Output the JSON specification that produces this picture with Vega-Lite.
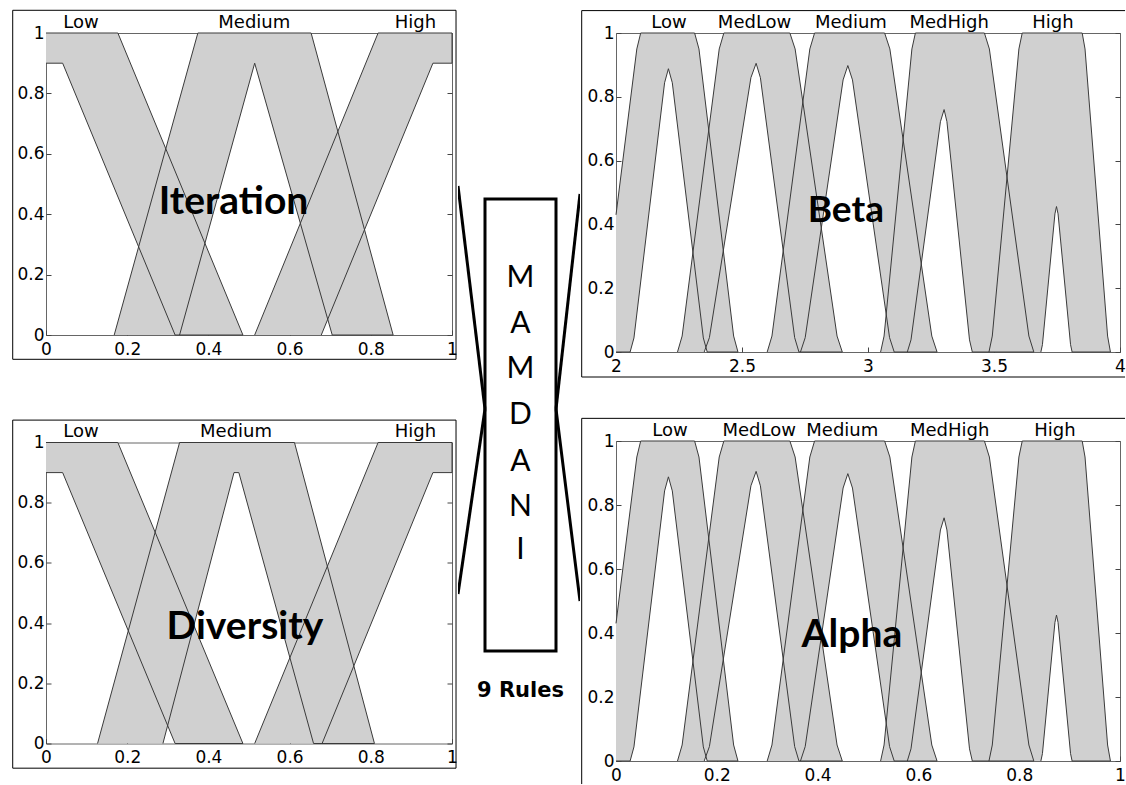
{
  "$schema": "https://vega.github.io/schema/vega-lite/v6.json",
  "padding": {"left": 11, "top": 9, "right": 0, "bottom": 0},
  "background": "white",
  "config": {"view": {"stroke": "#666", "strokeWidth": 1}, "font": "DejaVu Sans"},
  "spacing": 0,
  "hconcat": [
    {
      "spacing": 57.5,
      "vconcat": [
        {
          "width": 406, "height": 302,
          "resolve": {"axis": {"x": "independent", "y": "independent"}},
          "layer": [
            {
              "data": {"name": "iter", "values": [
                {"m":"Low","i":0,"x":0,"y":1},{"m":"Low","i":1,"x":0.177,"y":1},{"m":"Low","i":2,"x":0.485,"y":0},{"m":"Low","i":3,"x":0.318,"y":0},{"m":"Low","i":4,"x":0.041,"y":0.9},{"m":"Low","i":5,"x":0,"y":0.9},
                {"m":"Medium","i":0,"x":0.168,"y":0},{"m":"Medium","i":1,"x":0.374,"y":1},{"m":"Medium","i":2,"x":0.653,"y":1},{"m":"Medium","i":3,"x":0.855,"y":0},{"m":"Medium","i":4,"x":0.705,"y":0},{"m":"Medium","i":5,"x":0.514,"y":0.9},{"m":"Medium","i":6,"x":0.329,"y":0},
                {"m":"High","i":0,"x":0.514,"y":0},{"m":"High","i":1,"x":0.818,"y":1},{"m":"High","i":2,"x":1,"y":1},{"m":"High","i":3,"x":1,"y":0.9},{"m":"High","i":4,"x":0.953,"y":0.9},{"m":"High","i":5,"x":0.678,"y":0}
              ]},
              "mark": {"type": "line", "filled": true, "fill": "#d0d0d0", "strokeWidth": 0},
              "encoding": {
                "x": {"field": "x", "type": "quantitative", "scale": {"domain": [0, 1], "nice": false, "zero": false},
                  "axis": {"values": [0,0.2,0.4,0.6,0.8,1], "format": "~g", "title": null, "domain": false, "grid": false, "tickSize": -5, "tickColor": "#444", "labelFlush": false, "labelPadding": 11, "labelFont": "DejaVu Sans", "labelFontSize": 17, "labelColor": "#000"}},
                "y": {"field": "y", "type": "quantitative", "scale": {"domain": [0, 1], "nice": false},
                  "axis": {"values": [0,0.2,0.4,0.6,0.8,1], "format": "~g", "title": null, "domain": false, "grid": false, "tickSize": -5, "tickColor": "#444", "labelPadding": 7, "labelFont": "DejaVu Sans", "labelFontSize": 17, "labelColor": "#000"}},
                "detail": {"field": "m"},
                "order": {"field": "i", "type": "quantitative"}
              }
            },
            {
              "data": {"name": "iter"},
              "mark": {"type": "line", "stroke": "#3a3a3a", "strokeWidth": 1},
              "encoding": {
                "x": {"field": "x", "type": "quantitative", "axis": null},
                "y": {"field": "y", "type": "quantitative", "axis": {"orient": "right", "values": [0,0.2,0.4,0.6,0.8,1], "labels": false, "title": null, "domain": false, "grid": false, "tickSize": -5, "tickColor": "#444"}},
                "detail": {"field": "m"},
                "order": {"field": "i", "type": "quantitative"}
              }
            },
            {
              "data": {"values": [{"n":"Low","x":0.086},{"n":"Medium","x":0.513},{"n":"High","x":0.91}]},
              "mark": {"type": "text", "font": "DejaVu Sans", "fontSize": 18, "baseline": "alphabetic", "align": "center", "color": "#000"},
              "encoding": {"x": {"field": "x", "type": "quantitative", "axis": null}, "y": {"datum": 1.0175, "axis": null}, "text": {"field": "n"}}
            },
            {
              "data": {"values": [{"t": "Iteration"}]},
              "mark": {"type": "text", "font": "Lato", "fontSize": 39, "fontWeight": "bold", "baseline": "alphabetic", "align": "center", "color": "#000"},
              "encoding": {"x": {"datum": 0.462, "axis": null}, "y": {"datum": 0.40, "axis": null}, "text": {"field": "t"}}
            },
            {
              "data": {"values": [{}]},
              "mark": {"type": "rect", "filled": false, "stroke": "#000", "strokeWidth": 1},
              "encoding": {"x": {"datum": -0.082, "axis": null}, "x2": {"datum": 1.0099}, "y": {"datum": 1.0752, "axis": null}, "y2": {"datum": -0.0805}}
            }
          ]
        },
        {
          "width": 406, "height": 301,
          "resolve": {"axis": {"x": "independent", "y": "independent"}},
          "layer": [
            {
              "data": {"name": "div", "values": [
                {"m":"Low","i":0,"x":0,"y":1},{"m":"Low","i":1,"x":0.177,"y":1},{"m":"Low","i":2,"x":0.485,"y":0},{"m":"Low","i":3,"x":0.318,"y":0},{"m":"Low","i":4,"x":0.041,"y":0.9},{"m":"Low","i":5,"x":0,"y":0.9},
                {"m":"Medium","i":0,"x":0.127,"y":0},{"m":"Medium","i":1,"x":0.329,"y":1},{"m":"Medium","i":2,"x":0.612,"y":1},{"m":"Medium","i":3,"x":0.809,"y":0},{"m":"Medium","i":4,"x":0.659,"y":0},{"m":"Medium","i":5,"x":0.475,"y":0.9},{"m":"Medium","i":6,"x":0.463,"y":0.9},{"m":"Medium","i":7,"x":0.288,"y":0},
                {"m":"High","i":0,"x":0.514,"y":0},{"m":"High","i":1,"x":0.818,"y":1},{"m":"High","i":2,"x":1,"y":1},{"m":"High","i":3,"x":1,"y":0.9},{"m":"High","i":4,"x":0.953,"y":0.9},{"m":"High","i":5,"x":0.68,"y":0}
              ]},
              "mark": {"type": "line", "filled": true, "fill": "#d0d0d0", "strokeWidth": 0},
              "encoding": {
                "x": {"field": "x", "type": "quantitative", "scale": {"domain": [0, 1], "nice": false, "zero": false},
                  "axis": {"values": [0,0.2,0.4,0.6,0.8,1], "format": "~g", "title": null, "domain": false, "grid": false, "tickSize": -5, "tickColor": "#444", "labelFlush": false, "labelPadding": 11, "labelFont": "DejaVu Sans", "labelFontSize": 17, "labelColor": "#000"}},
                "y": {"field": "y", "type": "quantitative", "scale": {"domain": [0, 1], "nice": false},
                  "axis": {"values": [0,0.2,0.4,0.6,0.8,1], "format": "~g", "title": null, "domain": false, "grid": false, "tickSize": -5, "tickColor": "#444", "labelPadding": 7, "labelFont": "DejaVu Sans", "labelFontSize": 17, "labelColor": "#000"}},
                "detail": {"field": "m"},
                "order": {"field": "i", "type": "quantitative"}
              }
            },
            {
              "data": {"name": "div"},
              "mark": {"type": "line", "stroke": "#3a3a3a", "strokeWidth": 1},
              "encoding": {
                "x": {"field": "x", "type": "quantitative", "axis": null},
                "y": {"field": "y", "type": "quantitative", "axis": {"orient": "right", "values": [0,0.2,0.4,0.6,0.8,1], "labels": false, "title": null, "domain": false, "grid": false, "tickSize": -5, "tickColor": "#444"}},
                "detail": {"field": "m"},
                "order": {"field": "i", "type": "quantitative"}
              }
            },
            {
              "data": {"values": [{"n":"Low","x":0.086},{"n":"Medium","x":0.468},{"n":"High","x":0.91}]},
              "mark": {"type": "text", "font": "DejaVu Sans", "fontSize": 18, "baseline": "alphabetic", "align": "center", "color": "#000"},
              "encoding": {"x": {"field": "x", "type": "quantitative", "axis": null}, "y": {"datum": 1.019, "axis": null}, "text": {"field": "n"}}
            },
            {
              "data": {"values": [{"t": "Diversity"}]},
              "mark": {"type": "text", "font": "Lato", "fontSize": 39, "fontWeight": "bold", "baseline": "alphabetic", "align": "center", "color": "#000"},
              "encoding": {"x": {"datum": 0.49, "axis": null}, "y": {"datum": 0.348, "axis": null}, "text": {"field": "t"}}
            },
            {
              "data": {"values": [{}]},
              "mark": {"type": "rect", "filled": false, "stroke": "#000", "strokeWidth": 1},
              "encoding": {"x": {"datum": -0.082, "axis": null}, "x2": {"datum": 1.0099}, "y": {"datum": 1.0744, "axis": null}, "y2": {"datum": -0.082}}
            }
          ]
        }
      ]
    },
    {
      "width": 122, "height": 740,
      "view": {"stroke": null},
      "layer": [
        {
          "data": {"values": [
            {"x1": 0, "y1": 20.68, "x2": 22.13, "y2": 50.81},
            {"x1": 22.13, "y1": 50.81, "x2": 0, "y2": 75.81},
            {"x1": 100, "y1": 21.76, "x2": 80.33, "y2": 50.81},
            {"x1": 80.33, "y1": 50.81, "x2": 100, "y2": 76.76}
          ]},
          "mark": {"type": "rule", "color": "#000", "strokeWidth": 3, "clip": true},
          "encoding": {
            "x": {"field": "x1", "type": "quantitative", "scale": {"domain": [0, 100], "nice": false, "zero": false}, "axis": null},
            "y": {"field": "y1", "type": "quantitative", "scale": {"domain": [0, 100], "nice": false, "reverse": true}, "axis": null},
            "x2": {"field": "x2"},
            "y2": {"field": "y2"}
          }
        },
        {
          "data": {"values": [{}]},
          "mark": {"type": "rect", "filled": false, "stroke": "#000", "strokeWidth": 3},
          "encoding": {"x": {"datum": 22.13}, "x2": {"datum": 80.33}, "y": {"datum": 22.43}, "y2": {"datum": 83.51}}
        },
        {
          "data": {"values": [
            {"ch": "M", "row": 33.07}, {"ch": "A", "row": 39.26}, {"ch": "M", "row": 45.34}, {"ch": "D", "row": 51.62},
            {"ch": "A", "row": 57.95}, {"ch": "N", "row": 64.05}, {"ch": "I", "row": 69.86}
          ]},
          "mark": {"type": "text", "font": "Lato", "fontSize": 30, "baseline": "middle", "align": "center", "color": "#000"},
          "encoding": {"x": {"datum": 51.2}, "y": {"field": "row", "type": "quantitative"}, "text": {"field": "ch"}}
        },
        {
          "data": {"values": [{"t": "9 Rules"}]},
          "mark": {"type": "text", "font": "DejaVu Sans", "fontSize": 21, "fontWeight": "bold", "baseline": "middle", "align": "center", "color": "#000"},
          "encoding": {"x": {"datum": 51.2}, "y": {"datum": 88.92}, "text": {"field": "t"}}
        }
      ]
    },
    {
      "spacing": 38,
      "vconcat": [
        {
          "width": 504, "height": 319,
          "resolve": {"axis": {"x": "independent", "y": "independent"}},
          "layer": [
            {
              "data": {"name": "beta", "values": [
                {"m":"Low","i":0,"x":2,"y":0.43},{"m":"Low","i":1,"x":2.0826,"y":0.95},{"m":"Low","i":2,"x":2.098,"y":1},{"m":"Low","i":3,"x":2.312,"y":1},{"m":"Low","i":4,"x":2.3292,"y":0.95},{"m":"Low","i":5,"x":2.4668,"y":0.05},{"m":"Low","i":6,"x":2.484,"y":0},{"m":"Low","i":7,"x":2.362,"y":0},{"m":"Low","i":8,"x":2.3466,"y":0.044},{"m":"Low","i":9,"x":2.2234,"y":0.844},{"m":"Low","i":10,"x":2.208,"y":0.888},{"m":"Low","i":11,"x":2.1928,"y":0.844},{"m":"Low","i":12,"x":2.0712,"y":0.044},{"m":"Low","i":13,"x":2.056,"y":0},{"m":"Low","i":14,"x":2,"y":0},
                {"m":"MedLow","i":0,"x":2.244,"y":0},{"m":"MedLow","i":1,"x":2.2624,"y":0.05},{"m":"MedLow","i":2,"x":2.4096,"y":0.95},{"m":"MedLow","i":3,"x":2.428,"y":1},{"m":"MedLow","i":4,"x":2.69,"y":1},{"m":"MedLow","i":5,"x":2.7108,"y":0.95},{"m":"MedLow","i":6,"x":2.8772,"y":0.05},{"m":"MedLow","i":7,"x":2.898,"y":0},{"m":"MedLow","i":8,"x":2.726,"y":0},{"m":"MedLow","i":9,"x":2.709,"y":0.045},{"m":"MedLow","i":10,"x":2.573,"y":0.86},{"m":"MedLow","i":11,"x":2.556,"y":0.905},{"m":"MedLow","i":12,"x":2.5354,"y":0.86},{"m":"MedLow","i":13,"x":2.3706,"y":0.045},{"m":"MedLow","i":14,"x":2.35,"y":0},
                {"m":"Medium","i":0,"x":2.6,"y":0},{"m":"Medium","i":1,"x":2.6188,"y":0.05},{"m":"Medium","i":2,"x":2.7692,"y":0.95},{"m":"Medium","i":3,"x":2.788,"y":1},{"m":"Medium","i":4,"x":3.066,"y":1},{"m":"Medium","i":5,"x":3.0868,"y":0.95},{"m":"Medium","i":6,"x":3.2532,"y":0.05},{"m":"Medium","i":7,"x":3.274,"y":0},{"m":"Medium","i":8,"x":3.104,"y":0},{"m":"Medium","i":9,"x":3.0856,"y":0.045},{"m":"Medium","i":10,"x":2.9384,"y":0.853},{"m":"Medium","i":11,"x":2.92,"y":0.898},{"m":"Medium","i":12,"x":2.9012,"y":0.853},{"m":"Medium","i":13,"x":2.7508,"y":0.045},{"m":"Medium","i":14,"x":2.732,"y":0},
                {"m":"MedHigh","i":0,"x":3.05,"y":0},{"m":"MedHigh","i":1,"x":3.0638,"y":0.05},{"m":"MedHigh","i":2,"x":3.1742,"y":0.95},{"m":"MedHigh","i":3,"x":3.188,"y":1},{"m":"MedHigh","i":4,"x":3.462,"y":1},{"m":"MedHigh","i":5,"x":3.4816,"y":0.95},{"m":"MedHigh","i":6,"x":3.6384,"y":0.05},{"m":"MedHigh","i":7,"x":3.658,"y":0},{"m":"MedHigh","i":8,"x":3.414,"y":0},{"m":"MedHigh","i":9,"x":3.4028,"y":0.038},{"m":"MedHigh","i":10,"x":3.3132,"y":0.722},{"m":"MedHigh","i":11,"x":3.302,"y":0.76},{"m":"MedHigh","i":12,"x":3.2874,"y":0.722},{"m":"MedHigh","i":13,"x":3.1706,"y":0.038},{"m":"MedHigh","i":14,"x":3.156,"y":0},
                {"m":"High","i":0,"x":3.48,"y":0},{"m":"High","i":1,"x":3.4932,"y":0.05},{"m":"High","i":2,"x":3.5988,"y":0.95},{"m":"High","i":3,"x":3.612,"y":1},{"m":"High","i":4,"x":3.85,"y":1},{"m":"High","i":5,"x":3.8612,"y":0.95},{"m":"High","i":6,"x":3.9508,"y":0.05},{"m":"High","i":7,"x":3.962,"y":0},{"m":"High","i":8,"x":3.81,"y":0},{"m":"High","i":9,"x":3.8038,"y":0.023},{"m":"High","i":10,"x":3.7542,"y":0.433},{"m":"High","i":11,"x":3.748,"y":0.456},{"m":"High","i":12,"x":3.7418,"y":0.433},{"m":"High","i":13,"x":3.6922,"y":0.023},{"m":"High","i":14,"x":3.686,"y":0}
              ]},
              "mark": {"type": "line", "filled": true, "fill": "#d0d0d0", "strokeWidth": 0},
              "encoding": {
                "x": {"field": "x", "type": "quantitative", "scale": {"domain": [2, 4], "nice": false, "zero": false},
                  "axis": {"values": [2,2.5,3,3.5,4], "format": "~g", "title": null, "domain": false, "grid": false, "tickSize": -5, "tickColor": "#444", "labelFlush": false, "labelPadding": 11, "labelFont": "DejaVu Sans", "labelFontSize": 17, "labelColor": "#000"}},
                "y": {"field": "y", "type": "quantitative", "scale": {"domain": [0, 1], "nice": false},
                  "axis": {"values": [0,0.2,0.4,0.6,0.8,1], "format": "~g", "title": null, "domain": false, "grid": false, "tickSize": -5, "tickColor": "#444", "labelPadding": 7, "labelFont": "DejaVu Sans", "labelFontSize": 17, "labelColor": "#000"}},
                "detail": {"field": "m"},
                "order": {"field": "i", "type": "quantitative"}
              }
            },
            {
              "data": {"name": "beta"},
              "mark": {"type": "line", "stroke": "#3a3a3a", "strokeWidth": 1},
              "encoding": {
                "x": {"field": "x", "type": "quantitative", "axis": null},
                "y": {"field": "y", "type": "quantitative", "axis": {"orient": "right", "values": [0,0.2,0.4,0.6,0.8,1], "labels": false, "title": null, "domain": false, "grid": false, "tickSize": -5, "tickColor": "#444"}},
                "detail": {"field": "m"},
                "order": {"field": "i", "type": "quantitative"}
              }
            },
            {
              "data": {"values": [{"n":"Low","x":2.21},{"n":"MedLow","x":2.55},{"n":"Medium","x":2.932},{"n":"MedHigh","x":3.322},{"n":"High","x":3.734}]},
              "mark": {"type": "text", "font": "DejaVu Sans", "fontSize": 18, "baseline": "alphabetic", "align": "center", "color": "#000"},
              "encoding": {"x": {"field": "x", "type": "quantitative", "axis": null}, "y": {"datum": 1.016, "axis": null}, "text": {"field": "n"}}
            },
            {
              "data": {"values": [{"t": "Beta"}]},
              "mark": {"type": "text", "font": "Lato", "fontSize": 37, "fontWeight": "bold", "baseline": "alphabetic", "align": "center", "color": "#000"},
              "encoding": {"x": {"datum": 2.912, "axis": null}, "y": {"datum": 0.408, "axis": null}, "text": {"field": "t"}}
            },
            {
              "data": {"values": [{}]},
              "mark": {"type": "rule", "color": "#000", "strokeWidth": 1},
              "encoding": {"x": {"datum": 1.8639, "axis": null}, "x2": {"datum": 4.02}, "y": {"datum": 1.0702, "axis": null}}
            },
            {
              "data": {"values": [{}]},
              "mark": {"type": "rule", "color": "#000", "strokeWidth": 1},
              "encoding": {"x": {"datum": 1.8639, "axis": null}, "x2": {"datum": 4.02}, "y": {"datum": -0.0784, "axis": null}}
            },
            {
              "data": {"values": [{}]},
              "mark": {"type": "rule", "color": "#000", "strokeWidth": 1},
              "encoding": {"x": {"datum": 1.8639, "axis": null}, "y": {"datum": 1.0702, "axis": null}, "y2": {"datum": -0.0784}}
            }
          ]
        },
        {
          "width": 504, "height": 320,
          "resolve": {"axis": {"x": "independent", "y": "independent"}},
          "layer": [
            {
              "data": {"name": "alpha", "values": [
                {"m":"Low","i":0,"x":0,"y":0.43},{"m":"Low","i":1,"x":0.0413,"y":0.95},{"m":"Low","i":2,"x":0.049,"y":1},{"m":"Low","i":3,"x":0.156,"y":1},{"m":"Low","i":4,"x":0.1646,"y":0.95},{"m":"Low","i":5,"x":0.2334,"y":0.05},{"m":"Low","i":6,"x":0.242,"y":0},{"m":"Low","i":7,"x":0.181,"y":0},{"m":"Low","i":8,"x":0.1733,"y":0.044},{"m":"Low","i":9,"x":0.1117,"y":0.844},{"m":"Low","i":10,"x":0.104,"y":0.888},{"m":"Low","i":11,"x":0.0964,"y":0.844},{"m":"Low","i":12,"x":0.0356,"y":0.044},{"m":"Low","i":13,"x":0.028,"y":0},{"m":"Low","i":14,"x":0,"y":0},
                {"m":"MedLow","i":0,"x":0.122,"y":0},{"m":"MedLow","i":1,"x":0.1312,"y":0.05},{"m":"MedLow","i":2,"x":0.2048,"y":0.95},{"m":"MedLow","i":3,"x":0.214,"y":1},{"m":"MedLow","i":4,"x":0.345,"y":1},{"m":"MedLow","i":5,"x":0.3554,"y":0.95},{"m":"MedLow","i":6,"x":0.4386,"y":0.05},{"m":"MedLow","i":7,"x":0.449,"y":0},{"m":"MedLow","i":8,"x":0.363,"y":0},{"m":"MedLow","i":9,"x":0.3545,"y":0.045},{"m":"MedLow","i":10,"x":0.2865,"y":0.86},{"m":"MedLow","i":11,"x":0.278,"y":0.905},{"m":"MedLow","i":12,"x":0.2677,"y":0.86},{"m":"MedLow","i":13,"x":0.1853,"y":0.045},{"m":"MedLow","i":14,"x":0.175,"y":0},
                {"m":"Medium","i":0,"x":0.3,"y":0},{"m":"Medium","i":1,"x":0.3094,"y":0.05},{"m":"Medium","i":2,"x":0.3846,"y":0.95},{"m":"Medium","i":3,"x":0.394,"y":1},{"m":"Medium","i":4,"x":0.533,"y":1},{"m":"Medium","i":5,"x":0.5434,"y":0.95},{"m":"Medium","i":6,"x":0.6266,"y":0.05},{"m":"Medium","i":7,"x":0.637,"y":0},{"m":"Medium","i":8,"x":0.552,"y":0},{"m":"Medium","i":9,"x":0.5428,"y":0.045},{"m":"Medium","i":10,"x":0.4692,"y":0.853},{"m":"Medium","i":11,"x":0.46,"y":0.898},{"m":"Medium","i":12,"x":0.4506,"y":0.853},{"m":"Medium","i":13,"x":0.3754,"y":0.045},{"m":"Medium","i":14,"x":0.366,"y":0},
                {"m":"MedHigh","i":0,"x":0.525,"y":0},{"m":"MedHigh","i":1,"x":0.5319,"y":0.05},{"m":"MedHigh","i":2,"x":0.5871,"y":0.95},{"m":"MedHigh","i":3,"x":0.594,"y":1},{"m":"MedHigh","i":4,"x":0.731,"y":1},{"m":"MedHigh","i":5,"x":0.7408,"y":0.95},{"m":"MedHigh","i":6,"x":0.8192,"y":0.05},{"m":"MedHigh","i":7,"x":0.829,"y":0},{"m":"MedHigh","i":8,"x":0.707,"y":0},{"m":"MedHigh","i":9,"x":0.7014,"y":0.038},{"m":"MedHigh","i":10,"x":0.6566,"y":0.722},{"m":"MedHigh","i":11,"x":0.651,"y":0.76},{"m":"MedHigh","i":12,"x":0.6437,"y":0.722},{"m":"MedHigh","i":13,"x":0.5853,"y":0.038},{"m":"MedHigh","i":14,"x":0.578,"y":0},
                {"m":"High","i":0,"x":0.74,"y":0},{"m":"High","i":1,"x":0.7466,"y":0.05},{"m":"High","i":2,"x":0.7994,"y":0.95},{"m":"High","i":3,"x":0.806,"y":1},{"m":"High","i":4,"x":0.925,"y":1},{"m":"High","i":5,"x":0.9306,"y":0.95},{"m":"High","i":6,"x":0.9754,"y":0.05},{"m":"High","i":7,"x":0.981,"y":0},{"m":"High","i":8,"x":0.905,"y":0},{"m":"High","i":9,"x":0.9019,"y":0.023},{"m":"High","i":10,"x":0.8771,"y":0.433},{"m":"High","i":11,"x":0.874,"y":0.456},{"m":"High","i":12,"x":0.8709,"y":0.433},{"m":"High","i":13,"x":0.8461,"y":0.023},{"m":"High","i":14,"x":0.843,"y":0}
              ]},
              "mark": {"type": "line", "filled": true, "fill": "#d0d0d0", "strokeWidth": 0},
              "encoding": {
                "x": {"field": "x", "type": "quantitative", "scale": {"domain": [0, 1], "nice": false, "zero": false},
                  "axis": {"values": [0,0.2,0.4,0.6,0.8,1], "format": "~g", "title": null, "domain": false, "grid": false, "tickSize": -5, "tickColor": "#444", "labelFlush": false, "labelPadding": 11, "labelFont": "DejaVu Sans", "labelFontSize": 17, "labelColor": "#000"}},
                "y": {"field": "y", "type": "quantitative", "scale": {"domain": [0, 1], "nice": false},
                  "axis": {"values": [0,0.2,0.4,0.6,0.8,1], "format": "~g", "title": null, "domain": false, "grid": false, "tickSize": -5, "tickColor": "#444", "labelPadding": 7, "labelFont": "DejaVu Sans", "labelFontSize": 17, "labelColor": "#000"}},
                "detail": {"field": "m"},
                "order": {"field": "i", "type": "quantitative"}
              }
            },
            {
              "data": {"name": "alpha"},
              "mark": {"type": "line", "stroke": "#3a3a3a", "strokeWidth": 1},
              "encoding": {
                "x": {"field": "x", "type": "quantitative", "axis": null},
                "y": {"field": "y", "type": "quantitative", "axis": {"orient": "right", "values": [0,0.2,0.4,0.6,0.8,1], "labels": false, "title": null, "domain": false, "grid": false, "tickSize": -5, "tickColor": "#444"}},
                "detail": {"field": "m"},
                "order": {"field": "i", "type": "quantitative"}
              }
            },
            {
              "data": {"values": [{"n":"Low","x":0.107},{"n":"MedLow","x":0.284},{"n":"Medium","x":0.449},{"n":"MedHigh","x":0.662},{"n":"High","x":0.871}]},
              "mark": {"type": "text", "font": "DejaVu Sans", "fontSize": 18, "baseline": "alphabetic", "align": "center", "color": "#000"},
              "encoding": {"x": {"field": "x", "type": "quantitative", "axis": null}, "y": {"datum": 1.0156, "axis": null}, "text": {"field": "n"}}
            },
            {
              "data": {"values": [{"t": "Alpha"}]},
              "mark": {"type": "text", "font": "Lato", "fontSize": 39, "fontWeight": "bold", "baseline": "alphabetic", "align": "center", "color": "#000"},
              "encoding": {"x": {"datum": 0.468, "axis": null}, "y": {"datum": 0.357, "axis": null}, "text": {"field": "t"}}
            },
            {
              "data": {"values": [{}]},
              "mark": {"type": "rule", "color": "#000", "strokeWidth": 1},
              "encoding": {"x": {"datum": -0.06806, "axis": null}, "x2": {"datum": 1.01}, "y": {"datum": 1.0708, "axis": null}}
            },
            {
              "data": {"values": [{}]},
              "mark": {"type": "rule", "color": "#000", "strokeWidth": 1},
              "encoding": {"x": {"datum": -0.06806, "axis": null}, "y": {"datum": 1.0708, "axis": null}, "y2": {"datum": -0.072}}
            }
          ]
        }
      ]
    }
  ]
}
